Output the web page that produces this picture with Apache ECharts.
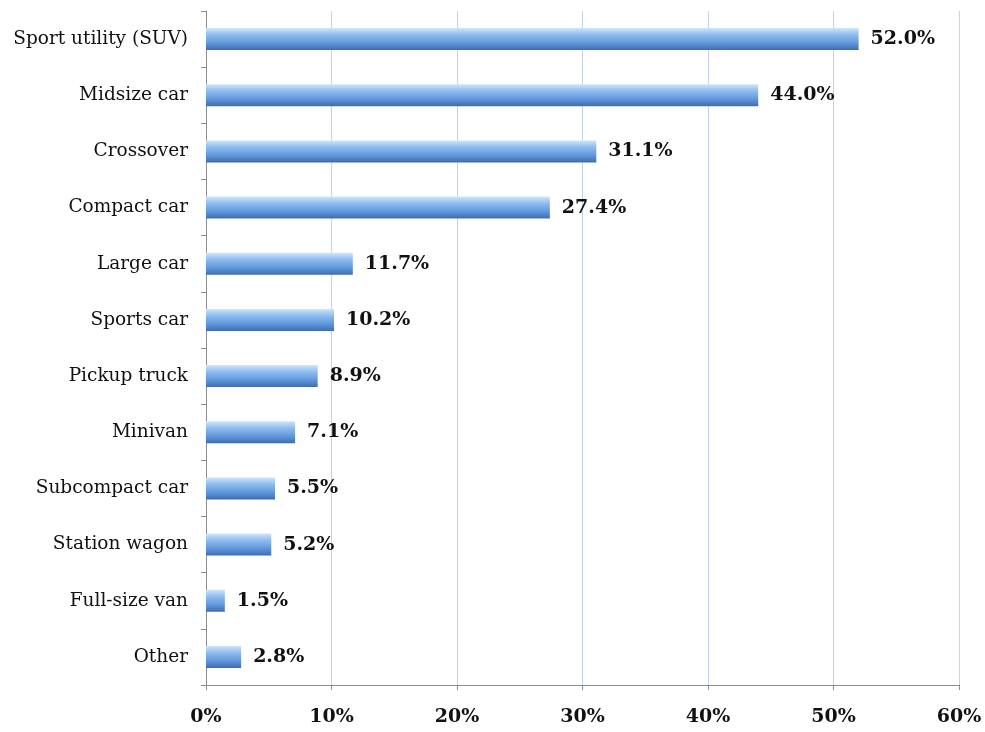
<!DOCTYPE html>
<html><head><meta charset="utf-8">
<script src="https://cdn.jsdelivr.net/npm/echarts@6/dist/echarts.min.js"></script>
<style>html,body{margin:0;padding:0;background:#fff}#c{width:985px;height:732px}</style>
</head><body><div id="c"></div>
<script>
const categories = ["Sport utility (SUV)","Midsize car","Crossover","Compact car","Large car","Sports car","Pickup truck","Minivan","Subcompact car","Station wagon","Full-size van","Other"];
const values = [52.0,44.0,31.1,27.4,11.7,10.2,8.9,7.1,5.5,5.2,1.5,2.8];
const xTicks = [0,10,20,30,40,50,60];

const chart = echarts.init(document.getElementById('c'));
chart.setOption({
  animation:false,
  grid:{left:206,right:26,top:11,bottom:47},
  xAxis:{type:'value',min:0,max:60,interval:10,
    axisLine:{show:true,lineStyle:{color:'#8c8c8c'}},
    axisTick:{show:true,length:5,lineStyle:{color:'#8c8c8c'}},
    splitLine:{show:true,lineStyle:{color:'#c5d3e6'}},
    axisLabel:{formatter:v=>v+'%',fontFamily:'DejaVu Serif',fontWeight:'bold',fontSize:19,color:'#111',margin:23}
  },
  yAxis:{type:'category',data:categories.slice().reverse(),
    axisLine:{show:true,lineStyle:{color:'#8c8c8c'}},
    axisTick:{show:true,length:5,lineStyle:{color:'#8c8c8c'}},
    axisLabel:{fontFamily:'DejaVu Serif',fontSize:18.5,color:'#111',margin:18}
  },
  series:[{type:'bar',data:values.slice().reverse(),barWidth:22,
    itemStyle:{color:new echarts.graphic.LinearGradient(0,0,0,1,[
      {offset:0,color:'#cfe6fb'},{offset:0.3,color:'#8fbdf0'},{offset:0.7,color:'#5e95da'},{offset:1,color:'#3d6cae'}])},
    label:{show:true,position:'right',distance:12,formatter:p=>p.value.toFixed(1)+'%',fontFamily:'DejaVu Serif',fontWeight:'bold',fontSize:19,color:'#111'}
  }]
});
</script></body></html>
